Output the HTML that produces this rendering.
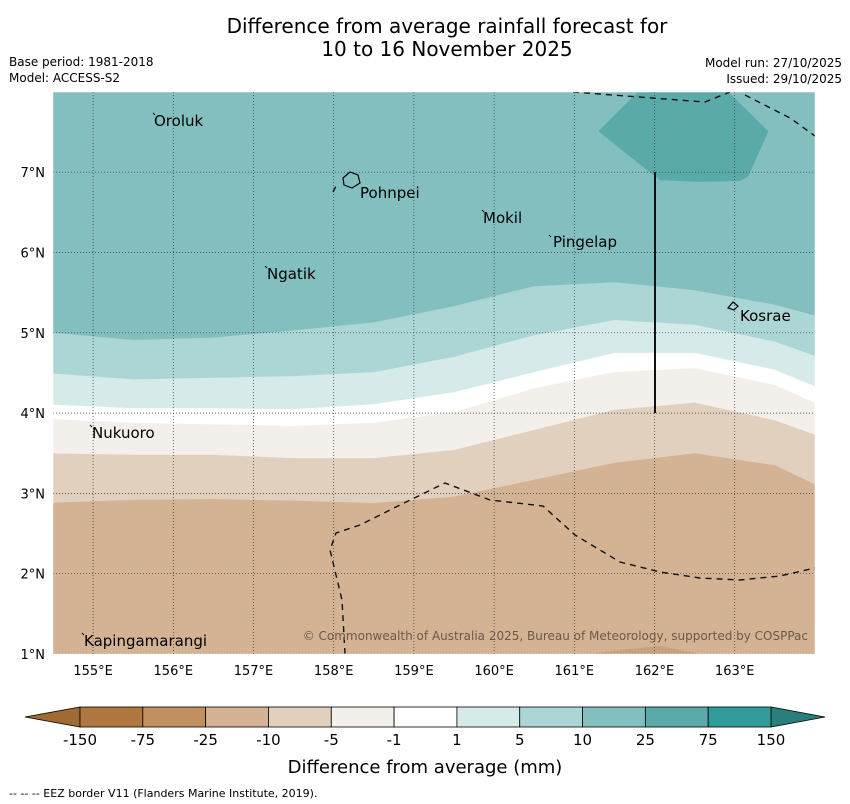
<!DOCTYPE html>
<html><head><meta charset="utf-8"><style>
body{margin:0;background:#fff;font-family:"Liberation Sans","DejaVu Sans",sans-serif;}
#wrap{position:relative;width:850px;height:804px;overflow:hidden;}
</style></head><body>
<div id="wrap">
<svg id="svg" width="850" height="804" xmlns="http://www.w3.org/2000/svg" font-family="DejaVu Sans, Liberation Sans, sans-serif">
<text x="447" y="33" text-anchor="middle" font-size="20">Difference from average rainfall forecast for</text>
<text x="447" y="56" text-anchor="middle" font-size="20">10 to 16 November 2025</text>
<text x="9" y="66" font-size="12">Base period: 1981-2018</text>
<text x="9" y="82" font-size="12">Model: ACCESS-S2</text>
<text x="842" y="67" font-size="12" text-anchor="end">Model run: 27/10/2025</text>
<text x="842" y="83" font-size="12" text-anchor="end">Issued: 29/10/2025</text>
<g id="map"></g>
<g id="cbar"></g>
<text x="425" y="773" text-anchor="middle" font-size="18">Difference from average (mm)</text>
<text x="9" y="797" font-size="11">--  --  -- EEZ border V11 (Flanders Marine Institute, 2019).</text>
</svg>
</div>
<script>
const lons=[154.5,155.5,156.5,157.5,158.5,159.5,160.5,161.5,162.5,163.5,164];
const b_m10=[2.88,2.92,2.93,2.91,2.88,2.96,3.17,3.38,3.50,3.35,3.02];
const b_m5=[3.50,3.48,3.48,3.44,3.44,3.54,3.79,4.04,4.13,3.91,3.66];
const b_m1=[3.93,3.88,3.86,3.84,3.88,4.01,4.31,4.51,4.56,4.35,4.04];
const b_p1=[4.11,4.06,4.06,4.05,4.11,4.26,4.51,4.75,4.75,4.54,4.25];
const b_p5=[4.50,4.42,4.44,4.46,4.51,4.70,4.97,5.16,5.10,4.89,4.64];
const b_p10=[5.01,4.91,4.94,5.03,5.13,5.33,5.58,5.63,5.53,5.35,5.16];
const patchLon=[161.79,162.92,163.42,163.17,163.07,162.57,162.07,161.94,161.3];
const patchLat=[8.0,8.0,7.51,6.95,6.89,6.88,6.90,7.0,7.51];
const lonTicks=[155,156,157,158,159,160,161,162,163];
const latTicks=[1,2,3,4,5,6,7];
const cbLabels=["-150","-75","-25","-10","-5","-1","1","5","10","25","75","150"];
const cbColors=["#b07840","#c09060","#d3b393","#e2d0bf","#f3efea","#ffffff","#d6eaea","#acd6d5","#84bfbf","#5aaaaa","#319b99"];
const NS="http://www.w3.org/2000/svg";
const X=l=>53+(l-154.5)*80.2, Y=a=>654-(a-1)*80.3;
function mk(p,t,at){const e=document.createElementNS(NS,t);for(const k in at)e.setAttribute(k,at[k]);p.appendChild(e);return e;}
const map=document.getElementById('map');
const cp=mk(map,'clipPath',{id:'cp'});mk(cp,'rect',{x:53,y:92,width:762,height:562});
const g=mk(map,'g',{'clip-path':'url(#cp)'});
const bg=mk(g,'rect',{x:53,y:92,width:762,height:562,fill:'#d3b393'});


const bands=[[b_m10,'#e2d0bf','band-minus10-minus5'],[b_m5,'#f3efea','band-minus5-minus1'],[b_m1,'#ffffff','band-near-average'],[b_p1,'#d6eaea','band-1-5'],[b_p5,'#acd6d5','band-5-10'],[b_p10,'#84bfbf','band-10-25']];
bands.forEach(([b,c,n])=>{let d='M'+X(154.4)+' 80 ';lons.forEach((l,i)=>{d+='L'+X(l===154.5?154.4:(l===164?164.2:l))+' '+Y(b[i])+' ';});d+='L'+X(164.2)+' 80Z';
const p=mk(g,'path',{d:d,fill:c});

});
let pd='';patchLon.forEach((l,i)=>{pd+=(i?'L':'M')+X(l)+' '+Y(patchLat[i])+' ';});
const pp=mk(g,'path',{d:pd+'Z',fill:'#5aaaaa'});


mk(g,'path',{d:'M590 654 L620 650 L660 646 L700 654Z',fill:'#c7a27c'});
lonTicks.forEach(l=>{const ln=mk(g,'line',{x1:X(l),x2:X(l),y1:92,y2:654,stroke:'#333','stroke-width':0.7,'stroke-dasharray':'1,2'});


const t=mk(map,'text',{x:X(l),y:675,'text-anchor':'middle','font-size':13});t.textContent=l+'°E';

});
latTicks.forEach(a=>{const ln=mk(g,'line',{x1:53,x2:815,y1:Y(a),y2:Y(a),stroke:'#333','stroke-width':0.7,'stroke-dasharray':'1,2'});


const t=mk(map,'text',{x:45,y:Y(a)+5,'text-anchor':'end','font-size':13});t.textContent=a+'°N';

});
const eez=['M345 654 L342 600 L330 550 L336 533 L360 525 L400 505 L445 483 L490 500 L543 506 L575 535 L620 562 L660 572 L700 578 L740 580 L780 576 L815 568','M573 92 L705 102 L730 92','M745 95 L790 118 L815 136','M333 192 L336 186'];
eez.forEach(d=>{const e=mk(g,'path',{d:d,fill:'none',stroke:'#111','stroke-width':1.4,'stroke-dasharray':'6,5'});

});
const vl=mk(g,'line',{x1:655,x2:655,y1:172,y2:413,stroke:'#111','stroke-width':2});


mk(g,'path',{d:'M343 178 L350 172 L358 175 L360 183 L352 188 L344 185Z',fill:'none',stroke:'#000','stroke-width':1.2});
mk(g,'path',{d:'M728 308 L733 302 L738 306 L734 310Z',fill:'none',stroke:'#000','stroke-width':1.2});
const isl=[['Oroluk',154,126,153,113],['Pohnpei',360,198,null],['Mokil',483,223,482,210],['Pingelap',553,247,549,235],['Ngatik',267,279,265,266],['Kosrae',740,321,null],['Nukuoro',92,438,90,425],['Kapingamarangi',84,646,82,633]];
isl.forEach(([n,x,y,mx,my])=>{const t=mk(g,'text',{x:x,y:y,'font-size':15});t.textContent=n;


if(mx!==null)mk(g,'line',{x1:mx,y1:my,x2:mx+2,y2:my+2,stroke:'#000','stroke-width':1});});
const cr=mk(g,'text',{x:808,y:640,'text-anchor':'end','font-size':12,fill:'#6b5a48'});cr.textContent='© Commonwealth of Australia 2025, Bureau of Meteorology, supported by COSPPac';


mk(map,'rect',{x:53,y:92,width:762,height:562,fill:'none',stroke:'#fff','stroke-width':0.5});
const cb=document.getElementById('cbar');const x0=80,x1=771,w=(x1-x0)/cbColors.length;
mk(cb,'path',{d:'M25 717 L80 707 L80 727Z',fill:'#a06a35',stroke:'#000','stroke-width':0.8});
mk(cb,'path',{d:'M825 717 L771 707 L771 727Z',fill:'#2a7e7c',stroke:'#000','stroke-width':0.8});
cbColors.forEach((c,i)=>{const r=mk(cb,'rect',{x:x0+i*w,y:707,width:w,height:20,fill:c,stroke:'#000','stroke-width':0.8});

});
cbLabels.forEach((s,i)=>{const t=mk(cb,'text',{x:x0+i*w,y:745,'text-anchor':'middle','font-size':15});t.textContent=s;

});
</script>
</body></html>
